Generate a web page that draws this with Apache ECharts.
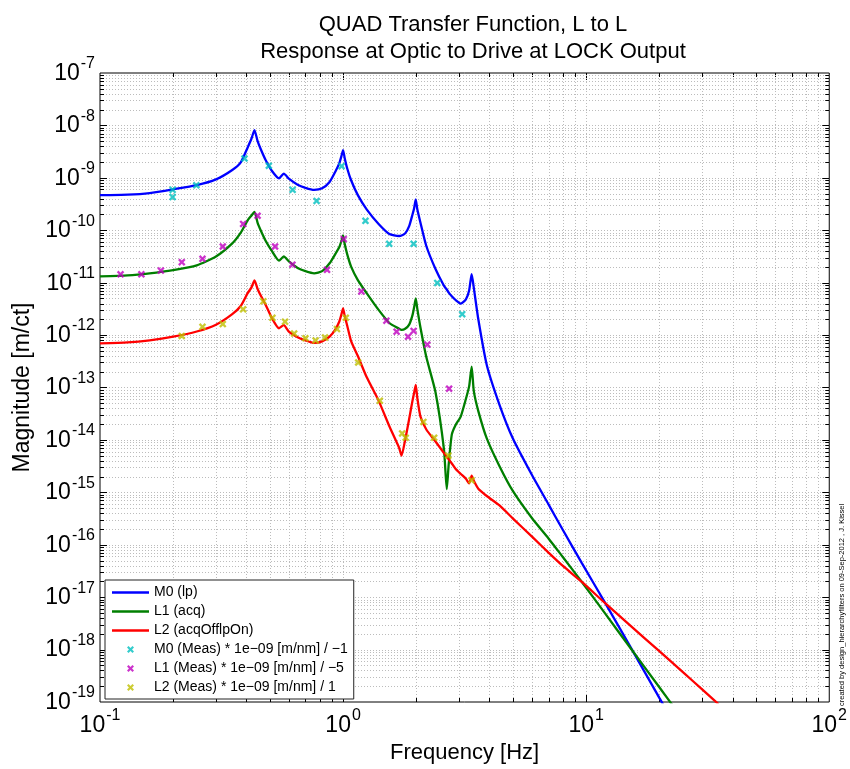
<!DOCTYPE html>
<html>
<head>
<meta charset="utf-8">
<script src="https://cdn.jsdelivr.net/npm/echarts@6/dist/echarts.min.js"></script>
<style>
  html, body { margin: 0; padding: 0; background: #ffffff; }
  #chart { width: 850px; height: 769px; }
</style>
</head>
<body>
<div id="chart"></div>
<script>
// Frequency grid shared by the three model curves [Hz]
const freqHz = [
  0.1, 0.13, 0.16, 0.2, 0.25, 0.3, 0.35, 0.38, 0.405, 0.42,
  0.432, 0.445, 0.46, 0.48, 0.51, 0.545, 0.57, 0.6, 0.65, 0.7,
  0.76, 0.82, 0.88, 0.93, 0.965, 0.985, 1.0, 1.015, 1.04, 1.08,
  1.15, 1.25, 1.4, 1.55, 1.7, 1.74, 1.8, 1.87, 1.93, 1.96,
  1.99, 2.02, 2.08, 2.2, 2.4, 2.6, 2.67, 2.72, 2.8, 2.9,
  3.05, 3.2, 3.3, 3.38, 3.45, 3.6, 3.9, 4.4, 5.0, 6.0,
  7.0, 8.0, 9.6, 12, 15, 20, 25, 30, 35, 40
];

// M0 (lp) model magnitude [m/ct]
const m0Model = [
  4.68e-10, 4.79e-10, 5.13e-10, 6.03e-10, 7.24e-10, 9.33e-10, 1.41e-9, 2.0e-9, 3.80e-9, 5.62e-9,
  8.13e-9, 5.01e-9, 3.39e-9, 2.19e-9, 1.35e-9, 9.77e-10, 1.20e-9, 9.55e-10, 7.41e-10, 6.46e-10,
  5.89e-10, 6.31e-10, 8.32e-10, 1.32e-9, 1.91e-9, 2.63e-9, 3.39e-9, 2.40e-9, 1.51e-9, 8.91e-10,
  4.68e-10, 2.51e-10, 1.32e-10, 8.51e-11, 7.76e-11, 7.94e-11, 8.71e-11, 1.20e-10, 2.0e-10, 2.63e-10,
  3.89e-10, 2.51e-10, 1.41e-10, 5.01e-11, 1.82e-11, 8.71e-12, 7.41e-12, 6.46e-12, 5.50e-12, 4.68e-12,
  3.98e-12, 4.79e-12, 7.08e-12, 1.45e-11, 7.94e-12, 2.0e-12, 2.69e-13, 4.68e-14, 1.05e-14, 2.09e-15,
  5.89e-16, 1.95e-16, 4.47e-17, 7.59e-18, 1.26e-18, 1.20e-19, 2.0e-20, null, null, null
];

// L1 (acq) model magnitude [m/ct]
const l1Model = [
  1.32e-11, 1.38e-11, 1.51e-11, 1.74e-11, 2.14e-11, 3.16e-11, 5.62e-11, 9.12e-11, 1.55e-10, 1.91e-10,
  2.24e-10, 1.38e-10, 9.55e-11, 6.31e-11, 3.98e-11, 2.63e-11, 3.16e-11, 2.51e-11, 1.91e-11, 1.66e-11,
  1.51e-11, 1.66e-11, 2.34e-11, 3.55e-11, 4.79e-11, 6.31e-11, 7.94e-11, 5.50e-11, 3.47e-11, 2.0e-11,
  1.12e-11, 6.31e-12, 3.02e-12, 1.70e-12, 1.32e-12, 1.26e-12, 1.32e-12, 1.58e-12, 2.40e-12, 3.39e-12,
  5.01e-12, 3.16e-12, 1.41e-12, 3.80e-13, 8.13e-14, 6.61e-15, 1.15e-15, 3.47e-15, 1.26e-14, 1.91e-14,
  2.82e-14, 6.03e-14, 1.05e-13, 2.51e-13, 8.51e-14, 3.55e-14, 1.07e-14, 3.16e-15, 1.05e-15, 3.16e-16,
  1.32e-16, 5.89e-17, 1.95e-17, 4.79e-18, 1.17e-18, 1.91e-19, 4.68e-20, null, null, null
];

// L2 (acqOfflpOn) model magnitude [m/ct]
const l2Model = [
  6.92e-13, 7.24e-13, 7.94e-13, 9.33e-13, 1.17e-12, 1.58e-12, 2.51e-12, 3.63e-12, 6.31e-12, 8.13e-12,
  1.10e-11, 7.59e-12, 5.50e-12, 3.80e-12, 2.09e-12, 1.35e-12, 1.55e-12, 1.15e-12, 9.12e-13, 7.94e-13,
  7.08e-13, 7.59e-13, 9.33e-13, 1.29e-12, 1.82e-12, 2.51e-12, 3.24e-12, 2.34e-12, 1.51e-12, 7.59e-13,
  3.98e-13, 1.58e-13, 5.62e-14, 1.82e-14, 7.08e-15, 5.01e-15, 1.0e-14, 2.51e-14, 5.62e-14, 7.94e-14,
  1.12e-13, 6.31e-14, 2.82e-14, 1.58e-14, 9.33e-15, 5.62e-15, 4.79e-15, 4.27e-15, 3.55e-15, 2.82e-15,
  2.24e-15, 1.82e-15, 1.48e-15, 2.09e-15, 1.66e-15, 1.17e-15, 8.51e-16, 5.62e-16, 3.16e-16, 1.41e-16,
  7.08e-17, 3.98e-17, 1.95e-17, 7.59e-18, 3.02e-18, 9.33e-19, 3.72e-19, 1.74e-19, 9.12e-20, null
];

// Measured points, scaled as in the legend
const m0MeasFreq = [0.199, 0.199, 0.249, 0.393, 0.495, 0.62, 0.778, 0.986, 1.236, 1.548, 1.95, 2.44, 3.09];
const m0MeasMag  = [5.9e-10, 4.3e-10, 7.2e-10, 2.34e-9, 1.70e-9, 5.9e-10, 3.63e-10, 1.67e-9, 1.51e-10, 5.5e-11, 5.5e-11, 9.9e-12, 2.5e-12];

const l1MeasFreq = [0.1215, 0.148, 0.178, 0.217, 0.264, 0.32, 0.388, 0.445, 0.525, 0.619, 0.859, 1.006, 1.189, 1.507, 1.66, 1.85, 1.95, 2.22, 2.73];
const l1MeasMag  = [1.44e-11, 1.44e-11, 1.70e-11, 2.46e-11, 2.85e-11, 4.9e-11, 1.32e-10, 1.89e-10, 4.9e-11, 2.2e-11, 1.76e-11, 6.8e-11, 6.8e-12, 1.88e-12, 1.16e-12, 9.3e-13, 1.2e-12, 6.6e-13, 9.5e-14];

const l2MeasFreq = [0.217, 0.264, 0.32, 0.388, 0.47, 0.512, 0.577, 0.629, 0.70, 0.771, 0.843, 0.944, 1.026, 1.154, 1.416, 1.75, 1.81, 2.14, 2.37, 2.71, 3.376];
const l2MeasMag  = [9.6e-13, 1.44e-12, 1.62e-12, 3.1e-12, 4.4e-12, 2.13e-12, 1.8e-12, 1.07e-12, 8.7e-13, 7.9e-13, 9.0e-13, 1.3e-12, 2.14e-12, 3.0e-13, 5.6e-14, 1.33e-14, 1.1e-14, 2.2e-14, 1.1e-14, 5.0e-15, 1.7e-15];

// Axis decades (exponents of ten) that carry labels
const xTickExps = [-1, 0, 1, 2];
const yTickExps = [-19, -18, -17, -16, -15, -14, -13, -12, -11, -10, -9, -8, -7];

const seriesNames = [
  'M0 (lp)', 'L1 (acq)', 'L2 (acqOfflpOn)',
  'M0 (Meas) * 1e\u221209 [m/nm] / \u22121',
  'L1 (Meas) * 1e\u221209 [m/nm] / \u22125',
  'L2 (Meas) * 1e\u221209 [m/nm] / 1'
];

const FONT = '"Liberation Sans", Arial, Helvetica, sans-serif';
const CROSS = 'path://M0,2.2L2.2,0L5,2.8L7.8,0L10,2.2L7.2,5L10,7.8L7.8,10L5,7.2L2.2,10L0,7.8L2.8,5Z';
const LINE_ICON = 'path://M0,0H40V2.6H0Z';

const pairs = (xs, ys) => xs.map((x, i) => [x, ys[i]]);

// Log-grid positions (1..9 x 10^n) for the dotted grid and the inward ticks
const gridItems = [];
for (let d = xTickExps[0]; d < xTickExps[xTickExps.length - 1]; d++) {
  for (let k = 1; k <= 9; k++) {
    if (d === xTickExps[0] && k === 1) continue;
    gridItems.push([k * Math.pow(10, d), 1e-13, 0, k === 1 ? 1 : 0]);
  }
}
for (let d = yTickExps[0]; d < yTickExps[yTickExps.length - 1]; d++) {
  for (let k = 1; k <= 9; k++) {
    if (d === yTickExps[0] && k === 1) continue;
    gridItems.push([1, k * Math.pow(10, d), 1, k === 1 ? 1 : 0]);
  }
}

function powLabel(v) {
  const e = Math.round(v);
  return '{b|10}{e|' + (e < 0 ? '-' : '') + Math.abs(e) + '}';
}
const tickRich = {
  b: { fontSize: 23, fontFamily: FONT, color: '#000', verticalAlign: 'bottom', lineHeight: 24 },
  e: { fontSize: 16, fontFamily: FONT, color: '#000', verticalAlign: 'bottom', lineHeight: 16, padding: [0, 0, 13, 1] }
};

const chart = echarts.init(document.getElementById('chart'), null, { renderer: 'canvas' });

const lineSeries = (name, data, color) => ({
  name, type: 'line', xAxisIndex: 0, yAxisIndex: 0,
  data, showSymbol: false, symbol: 'none', clip: true, z: 3,
  smooth: 0.2,
  lineStyle: { color, width: 2.3 }, itemStyle: { color }
});
const measSeries = (name, data, color) => ({
  name, type: 'scatter', xAxisIndex: 0, yAxisIndex: 0,
  data, symbol: CROSS, symbolSize: 7.5, z: 4,
  itemStyle: { color }
});

chart.setOption({
  animation: false,
  backgroundColor: '#ffffff',
  title: {
    text: 'QUAD Transfer Function, L to L\nResponse at Optic to Drive at LOCK Output',
    left: 468, top: 6, textAlign: 'center',
    textStyle: { fontFamily: FONT, fontSize: 22, fontWeight: 'normal', color: '#000', lineHeight: 27 }
  },
  grid: {
    left: 100, right: 14, top: 73, bottom: 63,
    show: true, borderColor: '#000', borderWidth: 1, backgroundColor: '#ffffff'
  },
  legend: {
    orient: 'vertical', left: 105, top: 580,
    padding: [3, 6, 2, 7], itemGap: 0, itemWidth: 37, itemHeight: 7,
    backgroundColor: '#ffffff', borderColor: '#222', borderWidth: 1, borderRadius: 0,
    textStyle: { fontFamily: FONT, fontSize: 14, color: '#000', lineHeight: 19 },
    data: [
      { name: seriesNames[0], icon: LINE_ICON }, { name: seriesNames[1], icon: LINE_ICON }, { name: seriesNames[2], icon: LINE_ICON },
      { name: seriesNames[3], icon: CROSS }, { name: seriesNames[4], icon: CROSS }, { name: seriesNames[5], icon: CROSS }
    ]
  },
  xAxis: [
    { type: 'log', logBase: 10, min: 0.1, max: 100, show: false },
    {
      type: 'value', min: -1, max: 2, interval: 1, position: 'bottom',
      axisLine: { show: false }, axisTick: { show: false }, splitLine: { show: false },
      axisLabel: { margin: 11, formatter: powLabel, rich: tickRich },
      name: 'Frequency [Hz]', nameLocation: 'middle', nameGap: 40,
      nameTextStyle: { fontFamily: FONT, fontSize: 22, color: '#000' }
    }
  ],
  yAxis: [
    { type: 'log', logBase: 10, min: 1e-19, max: 1e-7, show: false },
    {
      type: 'value', min: -19, max: -7, interval: 1, position: 'left',
      axisLine: { show: false }, axisTick: { show: false }, splitLine: { show: false },
      axisLabel: { margin: 5, formatter: powLabel, rich: tickRich },
      name: 'Magnitude [m/ct]', nameLocation: 'middle', nameGap: 56, nameRotate: 90,
      nameTextStyle: { fontFamily: FONT, fontSize: 23, color: '#000' }
    }
  ],
  series: [
    {
      type: 'custom', xAxisIndex: 0, yAxisIndex: 0, silent: true, z: 1, clip: false,
      data: gridItems,
      renderItem(params, api) {
        const cs = params.coordSys;
        const isY = api.value(2) === 1;
        const tl = api.value(3) === 1 ? 7 : 4;
        const dotted = { stroke: '#bcbcbc', lineWidth: 1, lineDash: [1, 2] };
        const solid = { stroke: '#000', lineWidth: 1 };
        if (!isY) {
          const px = Math.round(api.coord([api.value(0), api.value(1)])[0]) + 0.5;
          const y0 = cs.y, y1 = cs.y + cs.height;
          return { type: 'group', children: [
            { type: 'line', shape: { x1: px, y1: y0, x2: px, y2: y1 }, style: dotted },
            { type: 'line', shape: { x1: px, y1: y1, x2: px, y2: y1 - tl }, style: solid },
            { type: 'line', shape: { x1: px, y1: y0, x2: px, y2: y0 + tl }, style: solid }
          ] };
        }
        const py = Math.round(api.coord([api.value(0), api.value(1)])[1]) + 0.5;
        const x0 = cs.x, x1 = cs.x + cs.width;
        return { type: 'group', children: [
          { type: 'line', shape: { x1: x0, y1: py, x2: x1, y2: py }, style: dotted },
          { type: 'line', shape: { x1: x0, y1: py, x2: x0 + tl, y2: py }, style: solid },
          { type: 'line', shape: { x1: x1, y1: py, x2: x1 - tl, y2: py }, style: solid }
        ] };
      }
    },
    lineSeries(seriesNames[0], pairs(freqHz, m0Model), '#0000ff'),
    lineSeries(seriesNames[1], pairs(freqHz, l1Model), '#007f00'),
    lineSeries(seriesNames[2], pairs(freqHz, l2Model), '#ff0000'),
    measSeries(seriesNames[3], pairs(m0MeasFreq, m0MeasMag), '#00bfbf'),
    measSeries(seriesNames[4], pairs(l1MeasFreq, l1MeasMag), '#bf00bf'),
    measSeries(seriesNames[5], pairs(l2MeasFreq, l2MeasMag), '#bfbf00')
  ],
  graphic: [
    {
      type: 'text', x: 842, y: 706, rotation: Math.PI / 2, silent: true,
      style: {
        text: 'created by design_hierarchyfilters on 09-Sep-2012 , J. Kissel',
        fontFamily: FONT, fontSize: 7.5, fill: '#000',
        textAlign: 'left', textVerticalAlign: 'middle'
      }
    }
  ]
});
</script>
</body>
</html>
